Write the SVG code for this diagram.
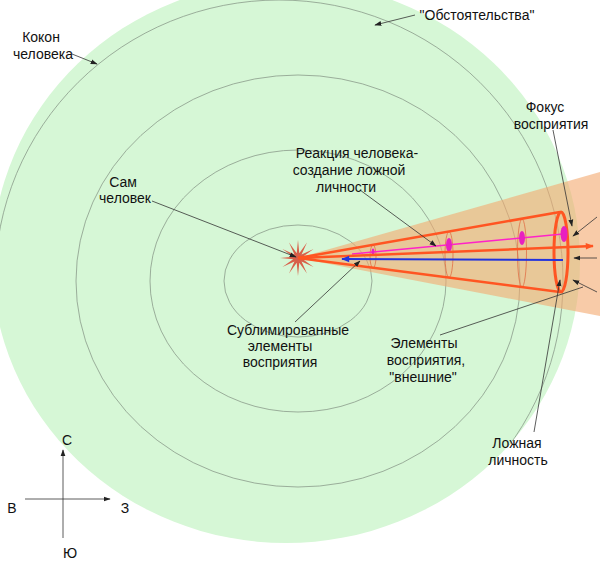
<svg xmlns="http://www.w3.org/2000/svg" width="600" height="563" viewBox="0 0 600 563">
<defs>
<style>
.t{font-family:"Liberation Sans",Arial,sans-serif;font-size:14px;fill:#111;text-anchor:middle}
.ring{fill:none;stroke:#8a9a8a;stroke-width:0.8}
.ptr{fill:none;stroke:#333;stroke-width:0.8}
.cone{fill:none;stroke:#ff5522;stroke-width:2.5}
.sec{fill:none;stroke:#e0643c;stroke-width:1;opacity:0.7}
.mg{fill:#e820c0}
</style>
<clipPath id="gclip"><ellipse cx="286" cy="262" rx="294" ry="281"/></clipPath>
<marker id="ah" viewBox="0 0 10 10" refX="9" refY="5" markerWidth="7" markerHeight="7" orient="auto" markerUnits="userSpaceOnUse">
<path d="M0,1.5 L10,5 L0,8.5 z" fill="#222"/>
</marker>
<marker id="aho" viewBox="0 0 10 10" refX="9" refY="5" markerWidth="9" markerHeight="8" orient="auto" markerUnits="userSpaceOnUse">
<path d="M0,1 L10,5 L0,9 z" fill="#ff5522"/>
</marker>
<marker id="ahb" viewBox="0 0 10 10" refX="9" refY="5" markerWidth="9" markerHeight="8" orient="auto" markerUnits="userSpaceOnUse">
<path d="M0,1 L10,5 L0,9 z" fill="#2233dd"/>
</marker>
</defs>
<rect width="600" height="563" fill="#fff"/>
<g id="cocoon">
<ellipse cx="286" cy="262" rx="294" ry="281" fill="#d6f7d6"/>
</g>
<g id="rings" clip-path="url(#gclip)">
<ellipse class="ring" cx="279" cy="281" rx="284" ry="281"/>
<ellipse class="ring" cx="298" cy="281" rx="222" ry="206"/>
<ellipse class="ring" cx="298" cy="281" rx="148" ry="131"/>
<ellipse class="ring" cx="298" cy="281" rx="74" ry="56"/>
</g>
<g id="wedge">
<polygon points="298,258 600,172 600,316" fill="#f4a86e" opacity="0.6"/>
</g>
<g id="self">
<polygon transform="translate(298,258)" fill="#d8604a" points="18,0 4.83,-1.29 15.59,-9 3.54,-3.54 9,-15.59 1.29,-4.83 0,-18 -1.29,-4.83 -9,-15.59 -3.54,-3.54 -15.59,-9 -4.83,-1.29 -18,0 -4.83,1.29 -15.59,9 -3.54,3.54 -9,15.59 -1.29,4.83 0,18 1.29,4.83 9,15.59 3.54,3.54 15.59,9 4.83,1.29"/>
</g>
<g id="cone">
<ellipse class="sec" cx="373" cy="256.5" rx="3" ry="11.5"/>
<ellipse class="sec" cx="449" cy="254.6" rx="4" ry="23"/>
<ellipse class="sec" cx="522" cy="253" rx="4.5" ry="34"/>
<line class="cone" x1="298" y1="258" x2="560" y2="212"/>
<line class="cone" x1="298" y1="258" x2="560" y2="292"/>
<ellipse cx="561" cy="252" rx="7" ry="40" fill="none" stroke="#ff5522" stroke-width="3"/>
<line x1="352" y1="254" x2="563" y2="234" stroke="#ff22c8" stroke-width="1.5"/>
<ellipse class="mg" cx="373" cy="252" rx="1.5" ry="3.5"/>
<ellipse class="mg" cx="449" cy="245" rx="3" ry="7"/>
<ellipse class="mg" cx="522" cy="238" rx="3" ry="7"/>
<ellipse class="mg" cx="564" cy="234" rx="3.5" ry="8"/>
<line x1="298" y1="258" x2="593" y2="246" stroke="#ff5522" stroke-width="2.5" marker-end="url(#aho)"/>
<line x1="563" y1="260" x2="342" y2="259" stroke="#2233dd" stroke-width="2" marker-end="url(#ahb)"/>
</g>
<g id="connectors">
<line class="ptr" x1="72" y1="54" x2="97" y2="64" marker-end="url(#ah)"/>
<line class="ptr" x1="415" y1="15" x2="375" y2="25" marker-end="url(#ah)"/>
<line class="ptr" x1="553" y1="130" x2="572" y2="226" marker-end="url(#ah)"/>
<line class="ptr" x1="360" y1="190" x2="436" y2="246" marker-end="url(#ah)"/>
<line class="ptr" x1="152" y1="201" x2="296" y2="257" marker-end="url(#ah)"/>
<line class="ptr" x1="295" y1="322" x2="360" y2="261" marker-end="url(#ah)"/>
<line class="ptr" x1="440" y1="335" x2="583" y2="287"/>
<line class="ptr" x1="534" y1="432" x2="560" y2="280" marker-end="url(#ah)"/>
<line class="ptr" x1="597" y1="217" x2="573" y2="236" marker-end="url(#ah)"/>
<line class="ptr" x1="597" y1="258" x2="574" y2="258" marker-end="url(#ah)"/>
<line class="ptr" x1="597" y1="292" x2="573" y2="280" marker-end="url(#ah)"/>
<line class="ptr" x1="63" y1="538" x2="63" y2="450" marker-end="url(#ah)"/>
<line class="ptr" x1="25" y1="499" x2="110" y2="499" marker-end="url(#ah)"/>
</g>
<g id="labels">
<text class="t" x="41" y="42">Кокон</text>
<text class="t" x="43" y="59">человека</text>
<text class="t" x="477" y="20">"Обстоятельства"</text>
<text class="t" x="545" y="112">Фокус</text>
<text class="t" x="551" y="129">восприятия</text>
<text class="t" x="357" y="158">Реакция человека-</text>
<text class="t" x="349" y="175">создание ложной</text>
<text class="t" x="346" y="192">личности</text>
<text class="t" x="123" y="187">Сам</text>
<text class="t" x="125" y="203">человек</text>
<text class="t" x="288" y="335">Сублимированные</text>
<text class="t" x="280" y="351">элементы</text>
<text class="t" x="280" y="367">восприятия</text>
<text class="t" x="424" y="348">Элементы</text>
<text class="t" x="426" y="365">восприятия,</text>
<text class="t" x="423" y="382">"внешние"</text>
<text class="t" x="517" y="448">Ложная</text>
<text class="t" x="518" y="465">личность</text>
<text class="t" x="67" y="445">С</text>
<text class="t" x="12" y="513">В</text>
<text class="t" x="125" y="513">З</text>
<text class="t" x="70" y="558">Ю</text>
</g>
</svg>
